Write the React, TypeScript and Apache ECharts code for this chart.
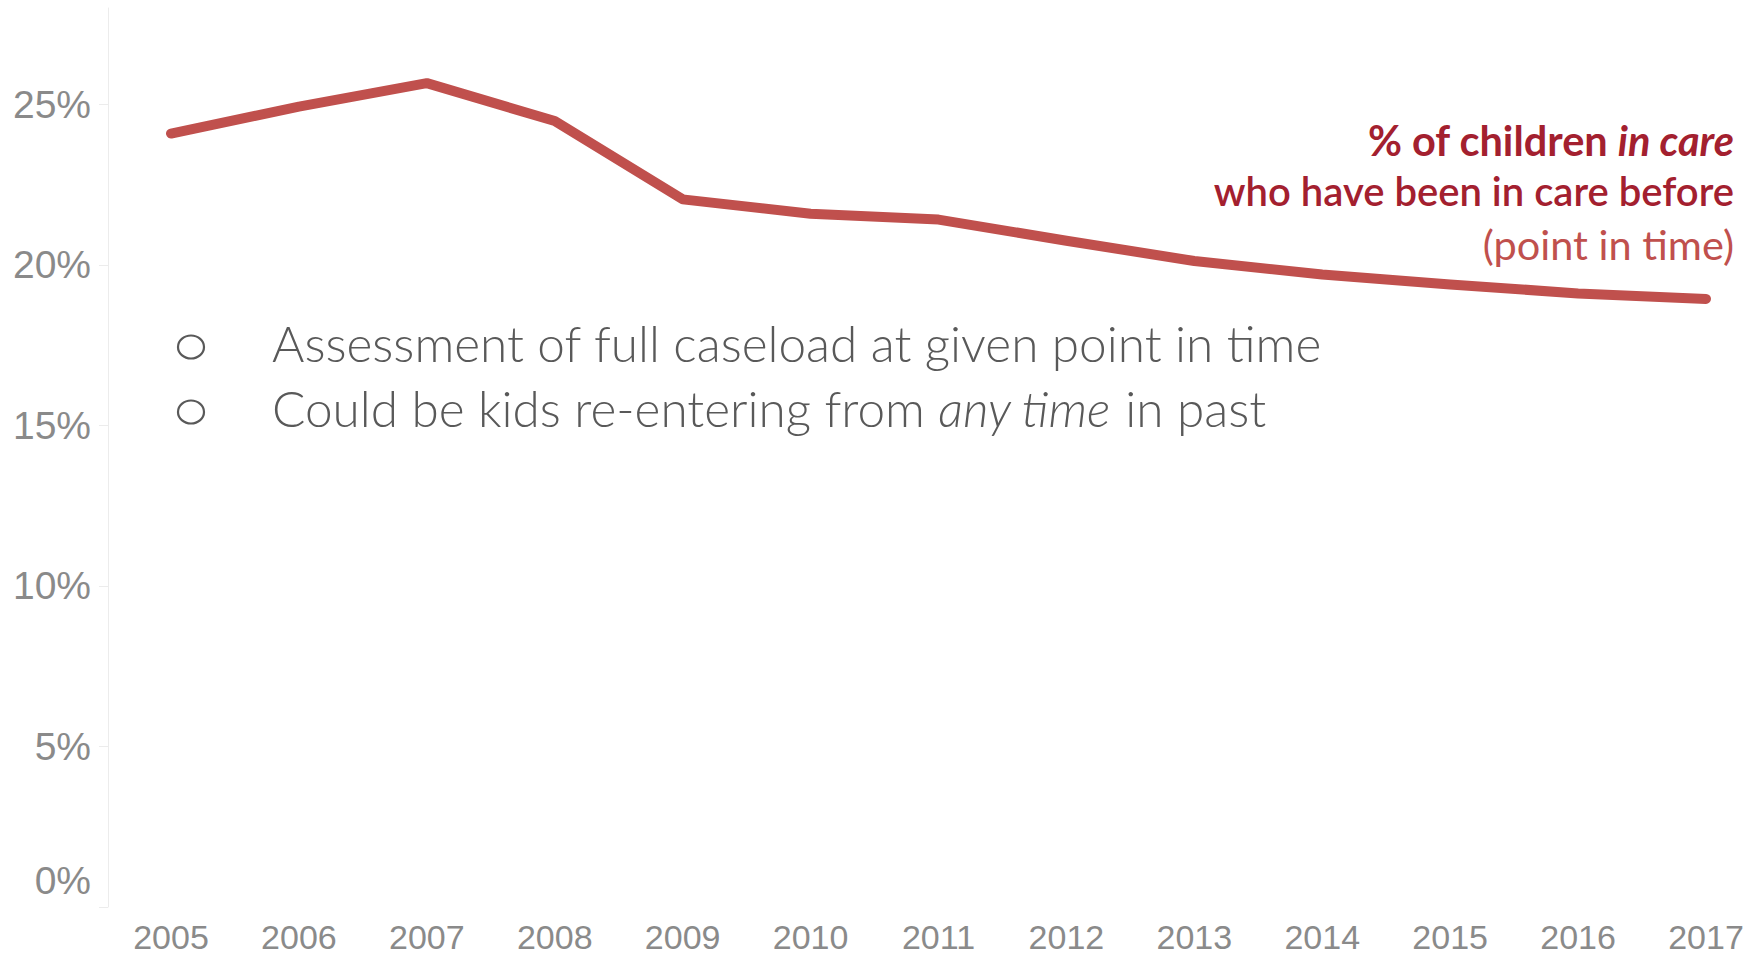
import React, { useEffect, useRef } from "react";
import * as echarts from "echarts";

const years = ["2005", "2006", "2007", "2008", "2009", "2010", "2011", "2012", "2013", "2014", "2015", "2016", "2017"];
const pctInCareBefore = [24.09, 24.93, 25.66, 24.48, 22.04, 21.59, 21.41, 20.75, 20.12, 19.7, 19.39, 19.11, 18.94];
const yTicks = [0, 5, 10, 15, 20, 25];

const annotationLines = ["% of children ", "in care", "who have been in care before", "(point in time)"];
const bulletLines = ["Assessment of full caseload at given point in time", "Could be kids re-entering from ", "any time", " in past"];

const AXIS_GRAY = "#8a8a8a";
const LINE_RED = "#c0504d";
const DARK_RED = "#a3202f";
const TEXT_GRAY = "#595959";

export default function App() {
  const ref = useRef<HTMLDivElement>(null);
  useEffect(() => {
    if (!ref.current) return;
    const chart = echarts.init(ref.current, null, { renderer: "svg" });
    const annFont = "Lato, 'Open Sans', sans-serif";
    const axisFont = "'Liberation Sans', Arial, sans-serif";
    chart.setOption({
      animation: false,
      backgroundColor: "#ffffff",
      grid: { left: 171, right: 48, top: 8, bottom: 48, containLabel: false },
      xAxis: {
        type: "category",
        data: years,
        boundaryGap: false,
        axisLine: { show: false },
        axisTick: { show: false },
        splitLine: { show: false },
        axisLabel: {
          margin: 13,
          fontSize: 34,
          lineHeight: 34,
          fontFamily: axisFont,
          color: AXIS_GRAY,
        },
      },
      yAxis: {
        type: "value",
        min: 0,
        max: 28,
        interval: 5,
        offset: 63,
        splitLine: { show: false },
        axisLine: { show: true, lineStyle: { color: "#ececec", width: 1 } },
        axisTick: { show: true, length: 9, lineStyle: { color: "#ececec" }, customValues: yTicks },
        axisLabel: {
          customValues: yTicks,
          margin: 17,
          fontSize: 39,
          fontFamily: axisFont,
          color: AXIS_GRAY,
          formatter: (v: number) => (v === 0 ? "{z|0%}" : v + "%"),
          rich: {
            z: {
              fontSize: 39,
              fontFamily: axisFont,
              color: AXIS_GRAY,
              padding: [0, 0, 54, 0],
            },
          },
        },
      },
      series: [
        {
          type: "line",
          data: pctInCareBefore,
          symbol: "none",
          lineStyle: { width: 10, color: LINE_RED, cap: "round", join: "round" },
        },
      ],
      graphic: [
        {
          type: "text",
          x: 1734,
          y: 140,
          style: {
            text: "{b|" + annotationLines[0] + "}{bi|" + annotationLines[1] + "}",
            align: "right",
            verticalAlign: "middle",
            rich: {
              b: { fontFamily: annFont, fontSize: 41.5, fontWeight: "bold", fill: DARK_RED, color: DARK_RED },
              bi: { fontFamily: annFont, fontSize: 41.5, fontWeight: "bold", fontStyle: "italic", fill: DARK_RED, color: DARK_RED },
            },
          },
        },
        {
          type: "text",
          x: 1734,
          y: 191,
          style: {
            text: annotationLines[2],
            align: "right",
            verticalAlign: "middle",
            fontFamily: annFont,
            fontSize: 40,
            fontWeight: 600,
            fill: DARK_RED,
          },
        },
        {
          type: "text",
          x: 1734,
          y: 244,
          style: {
            text: annotationLines[3],
            align: "right",
            verticalAlign: "middle",
            fontFamily: annFont,
            fontSize: 41.5,
            fontWeight: "normal",
            fill: LINE_RED,
          },
        },
        { type: "ellipse", shape: { cx: 191, cy: 347, rx: 13, ry: 11.5 }, style: { fill: "none", stroke: TEXT_GRAY, lineWidth: 2.2 } },
        { type: "ellipse", shape: { cx: 191, cy: 412, rx: 13, ry: 11.5 }, style: { fill: "none", stroke: TEXT_GRAY, lineWidth: 2.2 } },
        {
          type: "text",
          x: 272,
          y: 343,
          style: {
            text: bulletLines[0],
            align: "left",
            verticalAlign: "middle",
            fontFamily: annFont,
            fontSize: 49.5,
            fontWeight: 300,
            fill: TEXT_GRAY,
          },
        },
        {
          type: "text",
          x: 272,
          y: 408,
          style: {
            text: "{r|" + bulletLines[1] + "}{i|" + bulletLines[2] + "}{r|" + bulletLines[3] + "}",
            align: "left",
            verticalAlign: "middle",
            rich: {
              r: { fontFamily: annFont, fontSize: 49.5, fontWeight: 300, fill: TEXT_GRAY, color: TEXT_GRAY },
              i: { fontFamily: annFont, fontSize: 49.5, fontWeight: 300, fontStyle: "italic", fill: TEXT_GRAY, color: TEXT_GRAY },
            },
          },
        },
      ],
    });
    return () => chart.dispose();
  }, []);
  return <div ref={ref} style={{ position: "fixed", left: 0, top: 0, width: 1754, height: 955, background: "#fff" }} />;
}
